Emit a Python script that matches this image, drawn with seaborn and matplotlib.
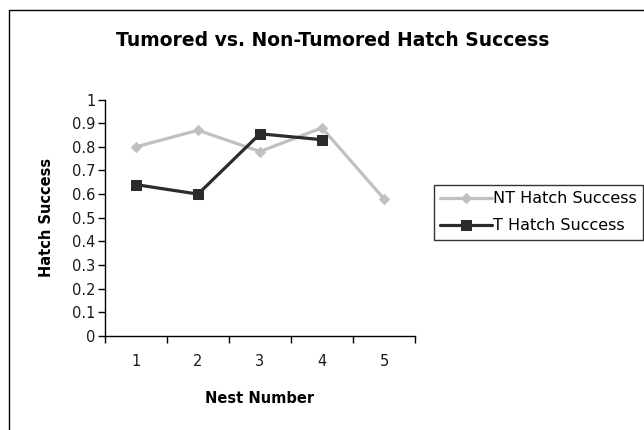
import numpy as np
import pandas as pd
import matplotlib
matplotlib.use("Agg")
import matplotlib.pyplot as plt
from matplotlib.patches import Rectangle
from matplotlib.ticker import FixedLocator, NullFormatter
import seaborn as sns

# ── Data ──────────────────────────────────────────────────────────────────────
nests = [1, 2, 3, 4, 5]
nt_hatch = [0.80, 0.87, 0.78, 0.88, 0.58]
t_nests = [1, 2, 3, 4]
t_hatch = [0.64, 0.60, 0.855, 0.83]

df = pd.concat([
    pd.DataFrame({"Nest": nests, "Hatch": nt_hatch, "Series": "NT Hatch Success"}),
    pd.DataFrame({"Nest": t_nests, "Hatch": t_hatch, "Series": "T Hatch Success"}),
], ignore_index=True)

sns.set_style("white")
plt.rcParams["font.family"] = ["DejaVu Sans"]
plt.rcParams["text.color"] = "black"
plt.rcParams["axes.labelcolor"] = "black"

fig = plt.figure(figsize=(6.44, 4.30), dpi=100)
ax = fig.add_axes([105/644, 1 - 336/430, 310/644, 236.5/430])

palette = {"NT Hatch Success": "#c0c0c0", "T Hatch Success": "#2b2b2b"}
markers = {"NT Hatch Success": "D", "T Hatch Success": "s"}
sizes = {"NT Hatch Success": 5, "T Hatch Success": 7}

for name, sub in df.groupby("Series"):
    sns.lineplot(data=sub, x="Nest", y="Hatch", ax=ax, color=palette[name],
                 marker=markers[name], markersize=sizes[name],
                 markeredgecolor=palette[name], lw=2.3, label=name,
                 legend=False)

ax.set_xlim(0.5, 5.5)
ax.set_ylim(0, 1)
ax.set_yticks(np.arange(0, 1.01, 0.1))
ax.set_yticklabels(["0"] + [f"{v:.1f}" for v in np.arange(0.1, 0.95, 0.1)] + ["1"])
ax.set_xticks(nests)
ax.set_xticklabels([str(n) for n in nests])
ax.xaxis.set_minor_locator(FixedLocator(np.arange(0.5, 5.6, 1.0)))
ax.xaxis.set_minor_formatter(NullFormatter())
ax.tick_params(axis="x", which="major", length=0, pad=13, labelsize=10.5,
               labelcolor="#1a1a1a")
ax.tick_params(axis="x", which="minor", length=5, width=1, color="black",
               direction="out", bottom=True)
ax.tick_params(axis="y", length=5, width=1, color="black", direction="out",
               left=True, labelsize=10.5, pad=2, labelcolor="#1a1a1a")

for s in ["top", "right"]:
    ax.spines[s].set_visible(False)
for s in ["left", "bottom"]:
    ax.spines[s].set_color("black")
    ax.spines[s].set_linewidth(1)

ax.set_xlabel("Nest Number", fontsize=10.5, fontweight="bold", labelpad=16)
ax.set_ylabel("Hatch Success", fontsize=10.5, fontweight="bold", labelpad=13)

fig.text(333/644, 1 - 40/430, "Tumored vs. Non-Tumored Hatch Success",
         ha="center", va="center", fontsize=13.5, fontweight="bold",
         color="black")

handles, labels = ax.get_legend_handles_labels()
leg = fig.legend(handles, labels, loc="upper left",
                 bbox_to_anchor=(434/644, 1 - 185/430), frameon=True,
                 fancybox=False, edgecolor="black", fontsize=11.5,
                 handlelength=3.2, handletextpad=0.1, borderpad=0.4,
                 labelspacing=0.75, borderaxespad=0)
leg.get_frame().set_linewidth(1)

# outer chart border (runs off the right and bottom edges)
fig.patches.append(Rectangle((9/644, -0.1), 1.0, 1 - 10/430 + 0.1,
                             transform=fig.transFigure, fill=False,
                             edgecolor="black", lw=1))

plt.savefig("out.png", dpi=100)
plt.close()
